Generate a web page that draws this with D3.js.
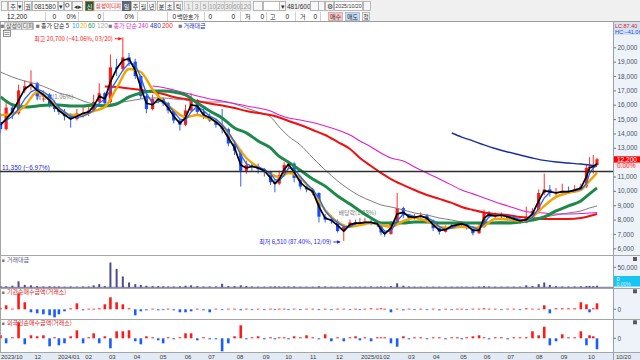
<!DOCTYPE html>
<html><head><meta charset="utf-8">
<script src="https://cdn.jsdelivr.net/npm/d3@7/dist/d3.min.js"></script>
<style>
body{margin:0;background:#fff}
svg{display:block}
text{font-family:"Liberation Sans","Noto Sans CJK KR",sans-serif;font-size:6.5px}
.k{font-family:"Noto Sans CJK KR",sans-serif;font-size:6px}
</style>
</head><body><script>
// weekly bars, Mondays from 2023-10-23 to 2025-10-20
var firstMonday = "2023-10-23", firstDay = "2023-10-24", lastDay = "2025-10-20";
var holidays = ["2023-12-25","2023-12-29","2024-01-01","2024-02-09","2024-02-12","2024-03-01","2024-04-10","2024-05-01","2024-05-06","2024-05-15","2024-06-06","2024-08-15","2024-09-16","2024-09-17","2024-09-18","2024-10-01","2024-10-03","2024-10-09","2024-12-25","2024-12-31","2025-01-01","2025-01-27","2025-01-28","2025-01-29","2025-01-30","2025-03-03","2025-05-01","2025-05-05","2025-05-06","2025-06-03","2025-06-06","2025-08-15","2025-10-03","2025-10-06","2025-10-07","2025-10-08","2025-10-09"];

var open = [14800,14300,15800,15400,17000,17300,17500,16600,16700,16000,15700,15500,15200,15000,15400,15400,15600,16200,16800,16200,18600,18500,19300,19000,18000,16600,15700,16400,16400,16100,15600,14900,14600,15600,16300,15500,15200,14900,14600,14300,13300,12800,11400,11800,11700,11500,11300,10600,10500,11100,11800,11900,10900,10300,10100,9850,8200,8000,7900,7200,7500,7800,7700,7800,7850,7800,7650,7100,7000,7800,8800,8300,8100,8200,8300,7950,7400,7150,7450,7600,7700,7750,7500,7050,7500,8500,8250,8300,8300,8100,8000,7800,8200,8600,9850,10100,9850,9900,10000,9950,10100,10300,11600,11700,11800];
var high = [15400,16300,16100,17400,17700,18400,17600,17000,16800,16300,16000,15700,15400,15700,15900,15900,16700,17500,16900,19500,19200,20700,19600,19200,18100,16800,16700,16800,16500,16200,15700,15000,16000,16800,16400,15700,15400,15000,15700,14400,13400,12900,12100,12000,11900,11600,11400,10800,11400,12000,12100,12000,11000,10400,10200,9900,8400,8300,8000,7700,8000,8000,8100,8100,8000,7900,7700,7200,7900,9850,8900,8400,8400,8500,8400,8000,7500,7600,7800,7900,7900,7800,7550,7700,8700,8600,8500,8500,8400,8200,8100,8900,8800,10100,11200,10400,10200,10500,10300,10400,10500,11800,12350,12500,12300];
var low = [14000,14200,15000,15300,16800,17000,16300,16200,15800,15500,15300,14900,14400,14900,15100,15200,15500,16100,15900,16000,18000,18300,18700,17800,16400,15400,15600,16100,15900,15400,14700,14200,14500,15500,15300,15000,14800,14400,14000,13100,12500,10300,11200,11400,11200,11000,10400,9900,10400,11000,11500,10600,10100,9900,9700,7800,7800,7700,7100,6510,7400,7500,7600,7600,7600,7500,6900,6800,6950,7700,8100,7900,8000,8100,7800,7200,6950,7100,7400,7500,7500,7300,6900,7000,7400,8100,8100,8100,7950,7850,7700,7750,8100,8500,9700,9600,9600,9800,9800,9850,10000,10200,11300,11200,11750];
var close = [14300,15800,15300,17000,17300,17500,16600,16700,16000,15700,15500,15200,15000,15400,15400,15600,16200,16800,16100,18600,18500,19300,19000,18000,16600,15700,16400,16400,16100,15600,14900,14600,15600,16300,15500,15200,14900,14600,14300,13300,12800,11400,11800,11700,11500,11300,10600,10500,11100,11800,11900,10900,10300,10100,9850,8200,8000,7900,7200,7500,7800,7700,7800,7850,7800,7650,7100,7000,7800,8800,8300,8100,8200,8300,7950,7400,7150,7450,7600,7700,7750,7500,7050,7500,8500,8250,8300,8300,8100,8000,7800,8200,8600,9850,10100,9850,9900,10000,9950,10100,10300,11600,11700,11800,12200];
var ma5 = [14600,15000,15500,16300,17100,17400,17000,16700,16300,15900,15600,15300,15000,15200,15400,15500,15900,16600,16400,17600,18500,19100,19200,18400,17200,16100,16000,16400,16200,15800,15200,14700,15100,16000,15900,15300,15100,14800,14400,13700,13000,11800,11600,11700,11600,11400,10900,10500,10800,11500,11850,11300,10600,10200,9950,8900,8100,7950,7600,7200,7650,7750,7750,7800,7800,7700,7300,7000,7400,8400,8500,8200,8150,8250,8100,7650,7250,7300,7550,7650,7700,7600,7250,7250,8100,8350,8250,8300,8200,8050,7900,8000,8400,9300,10000,9950,9850,9950,9950,10050,10200,11000,11600,11700,11900];
var ma10 = [14700,14900,15200,15700,16400,16900,17100,16900,16600,16200,15800,15500,15200,15100,15200,15400,15600,16100,16400,17000,17700,18400,18900,18800,17900,16800,16100,16200,16300,16000,15500,15000,14900,15500,15900,15600,15200,15000,14600,14100,13400,12500,11900,11700,11650,11500,11200,10800,10700,11100,11600,11500,11000,10500,10100,9500,8600,8100,7800,7500,7500,7700,7750,7800,7800,7750,7500,7200,7200,7900,8400,8350,8200,8200,8150,7900,7500,7300,7400,7600,7650,7650,7450,7300,7700,8200,8300,8300,8250,8150,8000,7950,8150,8800,9500,9900,9900,9900,9950,10000,10100,10500,11200,11600,11750];

// long averages read every 2nd week (weeks 0,2,...,104)
var maStep = 2;
var ma20 = [15280,15350,15910,16890,16330,15700,15280,15280,15560,15840,17160,18490,18280,17060,16260,15630,15140,15280,15010,14590,13400,12290,11660,11170,10970,11250,10900,9920,8670,7830,7490,7620,7760,7620,7490,7900,8110,7900,7490,7420,7490,7420,7560,8040,8040,7900,8180,8950,9580,9860,10070,10690,11250];
var ma60 = [16550,16000,15840,15910,15980,15980,15910,15910,15980,15910,16050,16540,16820,16960,16960,16890,16680,16120,15560,15080,14380,14040,13480,12990,12400,12000,11430,10820,10330,9640,9080,8600,8110,7760,7760,7760,7830,7830,7760,7760,7760,7760,7760,7760,7760,7830,7970,8180,8600,8950,9300,9790,10200];
var ma120 = [18280,17930,17650,17440,17100,16820,16610,16260,16050,15980,16120,16260,16400,16470,16470,16400,16330,16190,16190,16190,16050,15770,15490,15150,14450,13800,13200,12300,11460,10690,10060,9640,9300,9020,8880,8670,8460,8320,8110,7970,7830,7760,7760,7830,7900,7970,8040,8180,8320,8460,8600,8810,8950];
var ma200 = [null,null,null,null,null,null,null,null,null,17270,17240,17130,17030,16890,16750,16540,16400,16260,16090,15950,15770,15560,15420,15280,15110,14870,14590,14240,13890,13410,12920,12290,11730,11250,10820,10400,10060,9710,9440,9160,8880,8670,8490,8390,8320,8180,8110,8040,8040,8040,8110,8250,8390];
var ma240 = [null,null,null,null,null,null,null,null,null,null,null,null,null,17300,17200,17030,16820,16610,16400,16260,16090,15910,15770,15560,15280,15080,14940,14760,14520,14240,13890,13480,13060,12640,12290,12080,11660,11250,10820,10400,10060,9790,9510,9230,8950,8670,8490,8460,8390,8390,8420,8460,8490];
var ma480 = [null,null,null,null,null,null,null,null,null,null,null,null,null,null,null,null,null,null,null,null,null,null,null,null,null,null,null,null,null,null,null,null,null,null,null,null,null,null,null,14030,13750,13480,13200,12950,12710,12500,12290,12120,12010,11940,11870,11800,11730];

// 거래대금 (백만원), 기관 / 외국인 순매수 (억원), weekly
var tradeValue = [3000,2500,4000,15000,6000,5000,3000,2000,2500,2000,2000,1500,2000,1500,2000,2000,5000,8000,3000,62000,46000,27000,12000,8000,6000,4000,3000,3000,2500,2000,2000,2500,4000,5000,3000,2000,2000,2000,9000,3000,3000,5000,3000,2000,1500,1500,2000,2500,2000,2000,2000,2000,1500,1500,1500,2500,2000,1500,1500,2000,1500,1500,1500,1500,2000,1500,2000,1500,3000,10000,4000,2000,1500,1500,1500,1500,1500,1500,1500,1500,1500,1500,1500,2000,3000,2000,1500,1500,1500,1500,1500,5000,3000,8000,12000,6000,3000,2000,2000,2000,2500,3000,3500,3000,4000];
var instNet = [5,20,3,80,35,-15,-20,-25,-30,-40,-25,-10,5,30,-5,3,3,5,25,60,35,25,5,-30,-10,-5,3,-5,-3,3,-5,-15,-15,-10,3,-5,-15,3,-3,3,3,-5,3,-3,3,-3,3,-3,3,3,-3,3,-3,3,3,-3,3,-3,3,3,-3,3,-3,3,5,3,5,3,-15,3,-5,3,-3,3,-3,3,-5,3,-3,3,3,-3,3,3,5,3,3,-3,3,3,-3,5,3,3,20,-20,5,5,5,5,35,25,-15,5,30];
var foreignNet = [15,-25,5,80,-30,15,10,15,-40,5,-35,-25,10,40,-25,5,25,-25,10,-50,35,35,40,-15,-30,10,5,-10,-25,5,-5,5,25,25,-10,5,-5,-5,-65,-25,10,65,-5,5,10,-5,5,-5,5,5,-5,10,5,15,5,-5,20,-15,5,-15,5,10,-10,5,-15,5,5,5,-25,-42,10,-5,5,5,-5,5,5,-5,5,5,-5,5,10,15,5,-5,5,5,-5,5,5,5,35,15,58,-35,-15,20,5,5,35,-35,15,10,-55];

var priceTicks = [6000,7000,8000,9000,10000,11000,13000,14000,15000,16000,17000,18000,19000,20000];
var monthDates = ["2023-10-24","2023-12-01","2024-01-02","2024-02-01","2024-03-04","2024-04-01","2024-05-02","2024-06-03","2024-07-01","2024-08-01","2024-09-02","2024-10-02","2024-11-01","2024-12-02","2025-01-02","2025-02-03","2025-03-04","2025-04-01","2025-05-02","2025-06-02","2025-07-01","2025-08-01","2025-09-01","2025-10-01"];
var monthLabels = ["2023/10","12","2024/01","02","03","04","05","06","07","08","09","10","11","12","2025/01","02","03","04","05","06","07","08","09","10"];
var lastPrice = 12200, hiPrice = 20700, hiDate = "2024-03-20", loPrice = 6510, loDate = "2024-12-09", refLine = 11350;
var exDiv = [["2023-12-27", "배당락(1.06%)", 16600], ["2024-12-27", "배당락(1.88%)", 8460]];

var parse = d3.timeParse("%Y-%m-%d"), fmt = d3.timeFormat("%Y-%m-%d");
var days = d3.timeDay.range(parse(firstDay), d3.timeDay.offset(parse(lastDay), 1)).filter(function (d) {
    var w = d.getDay();
    return w > 0 && w < 6 && holidays.indexOf(fmt(d)) < 0;
});
function dayIdx(s) { return d3.bisectLeft(days, parse(s)); }
var mon = parse(firstMonday);
var wk = d3.rollup(days.map(function (d, i) { return [Math.floor(d3.timeDay.count(mon, d) / 7), i]; }),
    function (v) { return d3.mean(v, function (e) { return e[1]; }); }, function (e) { return e[0]; });

var x = d3.scaleLinear().domain([0, days.length - 1]).range([-1.3, 597]);
var y = d3.scaleLinear().domain([6000, 20000]).range([248.3, 47.3]);
var yV = d3.scaleLinear().domain([0, 50000]).range([287.3, 267.3]);
var yI = d3.scaleLinear().domain([-50, 100]).range([319.3, 289.3]);
var yF = d3.scaleLinear().domain([-70, 90]).range([352.3, 320.3]);
function wx(w) { return x(wk.get(w)); }

var svg = d3.select("body").append("svg").attr("width", 640).attr("height", 360);
svg.append("rect").attr("width", 640).attr("height", 360).attr("fill", "#fff");
var defs = svg.append("defs");
defs.append("clipPath").attr("id", "cm").append("rect").attr("x", 0.5).attr("y", 22).attr("width", 612.5).attr("height", 233);
defs.append("clipPath").attr("id", "cl").append("rect").attr("x", 0.5).attr("y", 256).attr("width", 612.5).attr("height", 96);
defs.append("marker").attr("id", "ar").attr("viewBox", "0 0 6 6").attr("refX", 6).attr("refY", 3)
    .attr("markerWidth", 4).attr("markerHeight", 4).attr("orient", "auto")
    .append("path").attr("d", "M0,0L6,3L0,6Z").attr("fill", "context-stroke");

// ---- toolbar
var tb = svg.append("g");
tb.append("rect").attr("width", 640).attr("height", 22).attr("fill", "#f0f0f0");
function btn(g, bx, by, w, h, label, fill, stroke, color, cls) {
    g.append("rect").attr("x", bx + 0.5).attr("y", by + 0.5).attr("width", w).attr("height", h)
        .attr("fill", fill || "#f7f7f7").attr("stroke", stroke || "#a9a9a9").attr("stroke-width", 0.8);
    if (label) return g.append("text").attr("class", cls || null).attr("x", bx + 0.5 + w / 2).attr("y", by + 0.5 + h / 2)
        .attr("text-anchor", "middle").attr("dominant-baseline", "central").attr("fill", color || "#333").text(label);
}
btn(tb, 1, 1, 6, 9, "");
btn(tb, 8, 1, 9, 9, "주", null, null, null, "k");
btn(tb, 17, 1, 5, 9, "▾");
btn(tb, 24, 1, 7, 9, "권", null, null, null, "k");
btn(tb, 32, 1, 25, 9, "081580", "#fff");
btn(tb, 58, 1, 5, 9, "▾");
btn(tb, 64, 1, 7, 9, "");
tb.append("circle").attr("cx", 67.3).attr("cy", 5.2).attr("r", 1.8).attr("fill", "none").attr("stroke", "#444").attr("stroke-width", 0.8);
btn(tb, 72, 1, 10, 9, "◂▸");
btn(tb, 85, 1, 8, 9, "신", "#1f5a3c", "#b5651d", "#fff", "k");
btn(tb, 94, 1, 28, 9, "삼성이디피", "#fafafa", "#c8c8c8", "#e01818", "k").style("font-size", "5.5px");
btn(tb, 122, 1, 8, 9, "일", "#5d6878", "#4a5260", "#fff", "k");
[["주", 131], ["월", 139], ["년", 147], ["분", 157], ["초", 165], ["틱", 174]].forEach(function (b) { btn(tb, b[1], 1, 8, 9, b[0], null, null, null, "k"); });
[["1", 184], ["3", 192], ["5", 200], ["10", 208], ["20", 216], ["30", 224], ["60", 232], ["120", 240]].forEach(function (b) {
    btn(tb, b[1], 1, b[0] == "120" ? 10 : 8, 9, b[0], "#ececec", "#c4c4c4", "#9a9a9a");
});
btn(tb, 253, 1, 9, 9, "");
btn(tb, 263, 1, 22, 9, "", "#fff");
btn(tb, 279, 1, 6, 9, "▾");
tb.append("text").attr("x", 287).attr("y", 6).attr("dominant-baseline", "central").attr("fill", "#333").text("481/600");
btn(tb, 310, 1, 8, 9, "");
btn(tb, 318, 1, 6, 9, "");
btn(tb, 325, 1, 8, 9, "⚙");
btn(tb, 334, 1, 28, 9, "2025/10/20", "#fff").style("font-size", "5.3px");
btn(tb, 363, 1, 7, 9, "");
tb.append("rect").attr("x", 0).attr("y", 11.5).attr("width", 370).attr("height", 9.5).attr("fill", "#fff");
[8, 45, 78, 103, 137, 167, 204, 240, 266, 295, 320].forEach(function (sx) {
    tb.append("line").attr("x1", sx + 0.5).attr("x2", sx + 0.5).attr("y1", 12).attr("y2", 21).attr("stroke", "#d0d0d0");
});
[["12,200", 27, "end"], ["0", 56, "end"], ["0%", 76, "end"], ["0", 101, "end"], ["0%", 134, "end"], ["0", 176, "end"],
 ["0", 212, "end"], ["0", 235, "end"], ["0", 264, "end"], ["0", 289, "end"], ["0", 317, "end"]].forEach(function (t) {
    tb.append("text").attr("x", t[1]).attr("y", 16.5).attr("text-anchor", t[2]).attr("dominant-baseline", "central").attr("fill", "#222").text(t[0]);
});
[["백만", 177], ["호가", 188], ["저", 245], ["고", 270], ["거", 300]].forEach(function (t) {
    tb.append("text").attr("class", "k").attr("x", t[1]).attr("y", 16.5).attr("dominant-baseline", "central").attr("fill", "#222").text(t[0]);
});
btn(tb, 328, 12, 14, 8, "매수", "#f6c6c6", "#d8a0a0", "#333", "k");
btn(tb, 345, 12, 14, 8, "매도", "#c6d9f6", "#a0b4d8", "#333", "k");
btn(tb, 362, 12, 7, 8, "청", null, null, null, "k");
tb.append("line").attr("x1", 0).attr("x2", 640).attr("y1", 21.5).attr("y2", 21.5).attr("stroke", "#9c9c9c");

// ---- frames
svg.append("rect").attr("x", 613).attr("y", 22).attr("width", 27).attr("height", 330).attr("fill", "#eef3fa");
svg.append("rect").attr("x", 0).attr("y", 352.5).attr("width", 640).attr("height", 7.5).attr("fill", "#e2eaf5");
[255.5, 288.5, 319.5, 352.5].forEach(function (ly) {
    svg.append("line").attr("x1", 0).attr("x2", 640).attr("y1", ly).attr("y2", ly).attr("stroke", "#a6a6a6");
});
svg.append("line").attr("x1", 0.5).attr("x2", 0.5).attr("y1", 22).attr("y2", 352).attr("stroke", "#a6a6a6");
svg.append("line").attr("x1", 613.5).attr("x2", 613.5).attr("y1", 22).attr("y2", 360).attr("stroke", "#8fa2b8");

// ---- main price panel
var m = svg.append("g").attr("clip-path", "url(#cm)");
exDiv.forEach(function (e) {
    m.append("text").attr("class", "k").attr("x", x(dayIdx(e[0]))).attr("y", y(e[2])).attr("text-anchor", "middle")
        .attr("dominant-baseline", "central").attr("fill", "#7a7a7a").text(e[1]);
});
var cg = m.append("g");
close.forEach(function (c, w) {
    var cx = wx(w), up = c >= open[w], col = up ? "#ff1a1a" : "#1a4cff";
    cg.append("line").attr("x1", cx).attr("x2", cx).attr("y1", y(high[w])).attr("y2", y(low[w])).attr("stroke", col).attr("stroke-width", 0.9);
    cg.append("rect").attr("x", cx - 1.6).attr("width", 3.2).attr("y", y(Math.max(c, open[w])))
        .attr("height", Math.max(1, Math.abs(y(c) - y(open[w])))).attr("fill", col);
});
function maLine(vals, step, color, width, curve) {
    var pts = [];
    vals.forEach(function (v, k) { if (v != null) pts.push([wx(k * step), y(v)]); });
    m.append("path").attr("d", d3.line().curve(curve || d3.curveMonotoneX)(pts)).attr("fill", "none")
        .attr("stroke", color).attr("stroke-width", width).attr("stroke-linejoin", "round");
}
maLine(ma120, maStep, "#7d7d7d", 1);
maLine(ma240, maStep, "#e01cd0", 1.1);
maLine(ma200, maStep, "#f01010", 2);
maLine(ma480, maStep, "#1a2ca8", 1.4);
maLine(ma60, maStep, "#1e8a4a", 3);
maLine(ma20, maStep, "#f4a400", 2.4);
maLine(ma10, 1, "#1f66ff", 1.3, d3.curveLinear);
maLine(ma5, 1, "#000", 1.7, d3.curveLinear);

var ry = y(refLine);
svg.append("line").attr("x1", 0).attr("x2", 613).attr("y1", ry).attr("y2", ry).attr("stroke", "#2e2e2e").attr("stroke-width", 1.6);
svg.append("text").attr("x", 2).attr("y", ry - 4).attr("dominant-baseline", "central").attr("fill", "#2a2ad0")
    .text(d3.format(",")(refLine) + " (" + d3.format(".2%")(refLine / lastPrice - 1) + ")");

var hx = x(dayIdx(hiDate)), hy = y(hiPrice) + 1.5;
svg.append("text").attr("class", "k").attr("x", hx - 10).attr("y", hy).attr("text-anchor", "end").attr("dominant-baseline", "central").attr("fill", "#ff1010")
    .text("최고 " + d3.format(",")(hiPrice) + " (" + d3.format(".2%")(lastPrice / hiPrice - 1) + ", 03/20)");
svg.append("line").attr("x1", hx - 8).attr("x2", hx - 1).attr("y1", hy).attr("y2", hy).attr("stroke", "#ff1010").attr("stroke-width", 0.9).attr("marker-end", "url(#ar)");
var lx = x(dayIdx(loDate)), ly = y(loPrice) + 1;
svg.append("text").attr("class", "k").attr("x", lx - 10).attr("y", ly).attr("text-anchor", "end").attr("dominant-baseline", "central").attr("fill", "#1a1aff")
    .text("최저 " + d3.format(",")(loPrice) + " (" + d3.format(".2%")(lastPrice / loPrice - 1) + ", 12/09)");
svg.append("line").attr("x1", lx - 8).attr("x2", lx - 1).attr("y1", ly).attr("y2", ly).attr("stroke", "#1a1aff").attr("stroke-width", 0.9).attr("marker-end", "url(#ar)");

// legend
var lg = svg.append("g");
function lt(tx, s, col, cls) {
    lg.append("text").attr("class", cls || null).attr("x", tx).attr("y", 25.8).attr("dominant-baseline", "central").attr("fill", col).text(s);
}
lg.append("rect").attr("x", 4.5).attr("y", 22.8).attr("width", 29).attr("height", 6.5).attr("fill", "#ececec").attr("stroke", "#a0a0a0").attr("stroke-width", 0.6);
lt(0.5, "■", "#7a7a7a"); lt(6, "삼성이디피", "#555", "k");
lt(36, "■", "#7a7a7a"); lt(41, "종가 단순 5", "#222", "k");
lt(72, "10", "#2a9cff"); lt(80, "20", "#f0b400"); lt(88, "60", "#16a060"); lt(97, "120", "#a8a8a8");
lt(108.5, "■", "#7a7a7a"); lt(113.5, "종가 단순 240", "#e01cd0", "k");
lt(150, "480", "#2040c8"); lt(162, "200", "#ff2020");
lt(178.5, "■", "#7a7a7a"); lt(183.5, "거래대금", "#2030c8", "k");
lg.append("rect").attr("x", 3.5).attr("y", 30.5).attr("width", 7).attr("height", 6).attr("fill", "#f4f4f4").attr("stroke", "#666").attr("stroke-width", 0.7);
[32.5, 34.5].forEach(function (yy) { lg.append("line").attr("x1", 4.5).attr("x2", 9.5).attr("y1", yy).attr("y2", yy).attr("stroke", "#666").attr("stroke-width", 0.6); });

// right price axis
var ax = svg.append("g").attr("transform", "translate(613.5,0)")
    .call(d3.axisRight(y).tickValues(priceTicks).tickSize(2.5).tickPadding(1.5).tickFormat(d3.format(",")));
ax.select(".domain").remove();
ax.selectAll("line").attr("stroke", "#6b7c90");
ax.selectAll("text").attr("fill", "#4a5260").style("font-size", "6.5px").attr("font-family", null);
svg.append("rect").attr("x", 614).attr("y", 22).attr("width", 26).attr("height", 13).attr("fill", "#d5e1f0");
svg.append("text").attr("x", 615).attr("y", 25.5).attr("dominant-baseline", "central").attr("fill", "#e01818").style("font-size", "5.5px")
    .text("LC:" + d3.format(".2f")((lastPrice / loPrice - 1) * 100));
svg.append("text").attr("x", 615).attr("y", 31.5).attr("dominant-baseline", "central").attr("fill", "#1a50e0").style("font-size", "5.5px")
    .text("HC:" + d3.format(".2f")((lastPrice / hiPrice - 1) * 100));
var py = y(lastPrice);
svg.append("rect").attr("x", 614).attr("y", py - 3).attr("width", 26).attr("height", 6.5).attr("fill", "#ff0000");
svg.append("text").attr("x", 617).attr("y", py + 0.3).attr("dominant-baseline", "central").attr("fill", "#fff").text(d3.format(",")(lastPrice));
svg.append("rect").attr("x", 614).attr("y", py + 3.5).attr("width", 26).attr("height", 5.5).attr("fill", "#fbe9ea");
svg.append("text").attr("x", 617).attr("y", py + 6.3).attr("dominant-baseline", "central").attr("fill", "#ff2020").text("0.00%");

// ---- lower panels
var lo = svg.append("g").attr("clip-path", "url(#cl)");
tradeValue.forEach(function (v, w) {
    lo.append("rect").attr("x", wx(w) - 1).attr("width", 2).attr("y", yV(v)).attr("height", yV(0) - yV(v)).attr("fill", "#4d4d88");
});
function netBars(vals, sc) {
    vals.forEach(function (v, w) {
        lo.append("rect").attr("x", wx(w) - 1.3).attr("width", 2.6).attr("y", sc(Math.max(0, v)))
            .attr("height", Math.max(0.8, Math.abs(sc(v) - sc(0)))).attr("fill", v >= 0 ? "#ff1a1a" : "#1a5cff");
    });
}
netBars(instNet, yI);
netBars(foreignNet, yF);
lo.append("line").attr("x1", 0).attr("x2", 613).attr("y1", yV(0)).attr("y2", yV(0)).attr("stroke", "#4d4d88").attr("stroke-width", 0.8);

[[259.5, "거래대금", "#5c5c88"], [291.8, "기관순매수금액(거래소)", "#e02020"], [322.8, "외국인순매수금액(거래소)", "#e02020"]].forEach(function (t) {
    svg.append("text").attr("x", 1.5).attr("y", t[0]).attr("dominant-baseline", "central").attr("fill", "#7a7a7a").style("font-size", "5px").text("■");
    svg.append("text").attr("class", "k").attr("x", 7).attr("y", t[0]).attr("dominant-baseline", "central").attr("fill", t[2]).text(t[1]);
    svg.append("rect").attr("x", 633).attr("y", t[0] - 2.5).attr("width", 4).attr("height", 4).attr("fill", "#5a5a5a");
});
function lowTick(ty, s) {
    svg.append("line").attr("x1", 613.5).attr("x2", 616).attr("y1", ty).attr("y2", ty).attr("stroke", "#6b7c90");
    svg.append("text").attr("x", 617.5).attr("y", ty).attr("dominant-baseline", "central").attr("fill", "#4a5260").text(s);
}
lowTick(yV(50000), "50,000");
lowTick(yI(0), "0");
lowTick(yF(0), "0");
svg.append("rect").attr("x", 614).attr("y", 276).attr("width", 26).attr("height", 10.5).attr("fill", "#18c4f0");
svg.append("text").attr("x", 616.5).attr("y", 278.6).attr("dominant-baseline", "central").attr("fill", "#fff").style("font-size", "5.5px").text("0");
svg.append("text").attr("x", 616.5).attr("y", 283.8).attr("dominant-baseline", "central").attr("fill", "#d8f4ff").style("font-size", "5px").text("0.00%");

// ---- date axis
monthDates.forEach(function (d, i) {
    var mx = Math.max(1, x(dayIdx(d)) + 1);
    svg.append("text").attr("x", mx).attr("y", 356.5).attr("dominant-baseline", "central").attr("fill", "#3a3a3a").style("font-size", "6px").text(monthLabels[i]);
});
svg.append("text").attr("x", 616).attr("y", 356.5).attr("dominant-baseline", "central").attr("fill", "#3a3a3a").style("font-size", "6px").text(lastDay.slice(5).replace("-", "/"));
</script></body></html>
